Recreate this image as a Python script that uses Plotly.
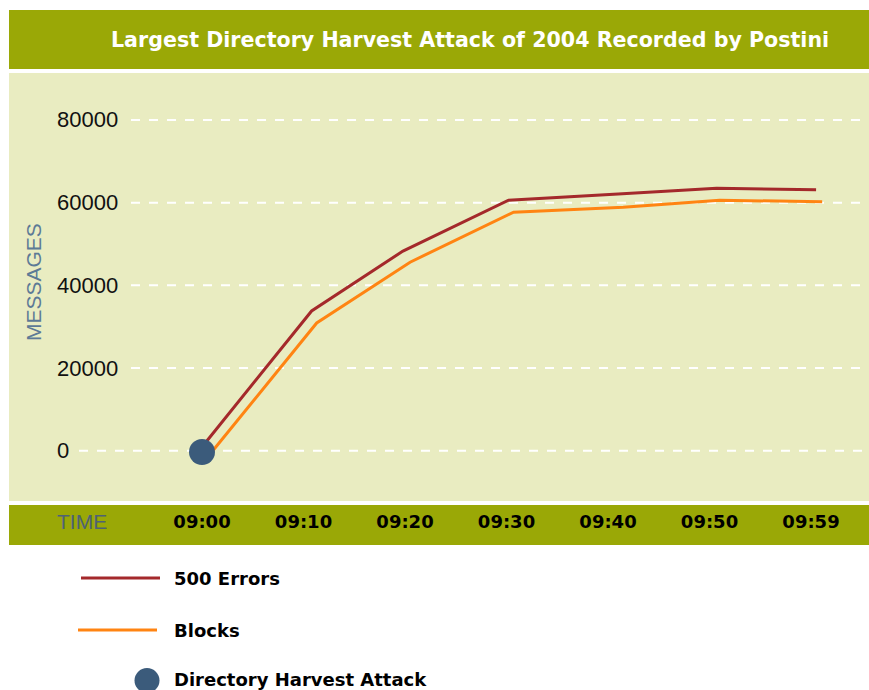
import plotly.graph_objects as go

# ---------------- data ----------------
time_labels = ["09:00", "09:10", "09:20", "09:30", "09:40", "09:50", "09:59"]
time_pos = [0, 1, 2, 3, 4, 5, 6]

errors_x = [-0.03, 1.08, 1.98, 3.02, 4.10, 5.07, 6.05]
errors_y = [0, 33800, 48300, 60600, 62100, 63500, 63100]

blocks_x = [0.04, 1.13, 2.05, 3.07, 4.15, 5.10, 6.11]
blocks_y = [-2000, 30900, 45600, 57700, 58900, 60600, 60200]

attack_x = [0]
attack_y = [-300]

y_ticks = [0, 20000, 40000, 60000, 80000]

series_names = ["500 Errors", "Blocks", "Directory Harvest Attack"]

# ---------------- style ----------------
W, H = 869, 690
PL, PR, PT, PB = 9, 869, 73, 501  # plot area in px
OLIVE = "#9aa806"
LIGHT = "#e9ecc1"
RED = "#a4292b"
ORANGE = "#ff8412"
DOT = "#3b5b7b"

def px_x(px):
    return (px - PL) / (PR - PL)

def px_y(py):
    return (PB - py) / (PB - PT)

fig = go.Figure()
fig.add_trace(go.Scatter(x=errors_x, y=errors_y, mode="lines", name=series_names[0],
                         line=dict(color=RED, width=3), showlegend=False))
fig.add_trace(go.Scatter(x=blocks_x, y=blocks_y, mode="lines", name=series_names[1],
                         line=dict(color=ORANGE, width=3), showlegend=False))
fig.add_trace(go.Scatter(x=attack_x, y=attack_y, mode="markers", name=series_names[2],
                         marker=dict(color=DOT, size=26), showlegend=False))

shapes = []
# title band
shapes.append(dict(type="rect", xref="paper", yref="paper", x0=px_x(9), x1=px_x(869),
                   y0=px_y(69), y1=px_y(10), fillcolor=OLIVE, line=dict(width=0), layer="below"))
# time band
shapes.append(dict(type="rect", xref="paper", yref="paper", x0=px_x(9), x1=px_x(869),
                   y0=px_y(545), y1=px_y(505), fillcolor=OLIVE, line=dict(width=0), layer="below"))
# gridlines, starting after each label
for v in y_ticks:
    start = 57 + 13 * len(str(v)) + 9
    shapes.append(dict(type="line", xref="paper", yref="y", x0=px_x(start), x1=1,
                       y0=v, y1=v, line=dict(color="white", width=2, dash="dash"), layer="below"))

annotations = []
annotations.append(dict(text="Largest Directory Harvest Attack of 2004 Recorded by Postini",
                        xref="paper", yref="paper", x=px_x(470), y=px_y(40),
                        xanchor="center", yanchor="middle", showarrow=False,
                        font=dict(family="DejaVu Sans", size=20.6, color="white", weight="bold")))
annotations.append(dict(text="MESSAGES", xref="paper", yref="paper", x=px_x(33), y=px_y(282),
                        xanchor="center", yanchor="middle", showarrow=False, textangle=-90,
                        font=dict(family="Liberation Sans", size=21, color="#5d7a96")))
annotations.append(dict(text="TIME", xref="paper", yref="paper", x=px_x(82), y=px_y(521),
                        xanchor="center", yanchor="middle", showarrow=False,
                        font=dict(family="Liberation Sans", size=21, color="#4e6275")))
for v in y_ticks:
    annotations.append(dict(text=str(v), xref="paper", yref="y", x=px_x(55), y=v,
                            xanchor="left", yanchor="middle", showarrow=False,
                            font=dict(family="Liberation Sans", size=22, color="#111111")))

# manual legend
legend_rows = [(578, RED, 81, 160), (630, ORANGE, 78, 157)]
for (yy, col, xa, xb), name in zip(legend_rows, series_names[:2]):
    shapes.append(dict(type="line", xref="paper", yref="paper", x0=px_x(xa), x1=px_x(xb),
                       y0=px_y(yy), y1=px_y(yy), line=dict(color=col, width=3)))
    annotations.append(dict(text=name, xref="paper", yref="paper", x=px_x(172), y=px_y(yy),
                            xanchor="left", yanchor="middle", showarrow=False,
                            font=dict(family="DejaVu Sans", size=18, color="black", weight="bold")))
shapes.append(dict(type="circle", xref="paper", yref="paper", x0=px_x(134.5), x1=px_x(159.5),
                   y0=px_y(693), y1=px_y(668), fillcolor=DOT, line=dict(width=0)))
annotations.append(dict(text=series_names[2], xref="paper", yref="paper", x=px_x(172), y=px_y(679),
                        xanchor="left", yanchor="middle", showarrow=False,
                        font=dict(family="DejaVu Sans", size=18, color="black", weight="bold")))

# axis ranges mapping data to pixels (09:00 at px 202, 101.5 px per step; 0 at px 450.7, 241.9 units/px)
x_range = [(PL - 202) / 101.5, (PR - 202) / 101.5]
y_range = [(450.7 - PB) * 241.9, (450.7 - PT) * 241.9]

fig.update_layout(
    width=W, height=H,
    margin=dict(l=PL, r=W - PR, t=PT, b=H - PB),
    paper_bgcolor="white", plot_bgcolor=LIGHT,
    shapes=shapes, annotations=annotations,
    xaxis=dict(range=x_range, tickvals=time_pos, ticktext=time_labels, showgrid=False,
               zeroline=False, showline=False, ticks="", ticklabelstandoff=8,
               tickfont=dict(family="DejaVu Sans", size=18, color="black", weight="bold"),
               fixedrange=True),
    yaxis=dict(range=y_range, showgrid=False, zeroline=False, showticklabels=False,
               showline=False, fixedrange=True),
    showlegend=False,
)

fig.write_html("out.html")
